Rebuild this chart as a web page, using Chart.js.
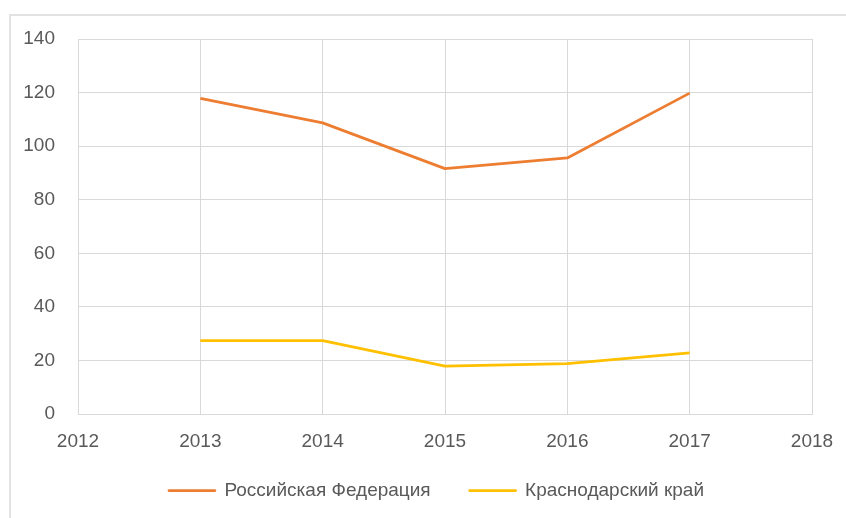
<!DOCTYPE html>
<html>
<head>
<meta charset="utf-8">
<script src="https://cdn.jsdelivr.net/npm/chart.js@4/dist/chart.umd.min.js"></script>
<style>
  html, body { margin: 0; padding: 0; background: #ffffff; }
  #wrap { position: relative; width: 846px; height: 518px; overflow: hidden; }
  #frame { position: absolute; left: 9px; top: 14px; width: 900px; height: 600px;
           border-left: 2px solid #e2e2e2; border-top: 2px solid #e2e2e2; box-sizing: border-box; }
  #c { position: absolute; left: 0; top: 0; }
</style>
</head>
<body>
<div id="wrap">
  <div id="frame"></div>
  <canvas id="c" width="846" height="518"></canvas>
</div>
<script>
const years = ['2012', '2013', '2014', '2015', '2016', '2017', '2018'];
const russia = [null, 117.8, 108.7, 91.6, 95.6, 119.8, null];
const krasnodar = [null, 27.4, 27.4, 17.9, 18.8, 22.8, null];
const seriesNames = ['Российская Федерация', 'Краснодарский край'];
const yTicks = { min: 0, max: 140, step: 20 };

const textColor = '#595959';
const gridColor = '#d9d9d9';
const font = { family: 'Liberation Sans', size: 19 };

// let axis labels draw outside their (fixed-size) axis boxes
const noLabelClip = {
  id: 'noLabelClip',
  beforeDraw(chart) {
    Object.values(chart.scales).forEach(s => { s._computeLabelArea = () => undefined; });
  }
};

new Chart(document.getElementById('c'), {
  type: 'line',
  data: {
    labels: years,
    datasets: [
      { label: seriesNames[0], data: russia, borderColor: '#ED7D31', backgroundColor: '#ED7D31',
        borderWidth: 2.75, pointRadius: 0, tension: 0, borderCapStyle: 'butt', borderJoinStyle: 'round' },
      { label: seriesNames[1], data: krasnodar, borderColor: '#FFC000', backgroundColor: '#FFC000',
        borderWidth: 2.75, pointRadius: 0, tension: 0, borderCapStyle: 'butt', borderJoinStyle: 'round' }
    ]
  },
  plugins: [noLabelClip],
  options: {
    responsive: false,
    animation: false,
    events: [],
    layout: { padding: { left: 61, right: 34, top: 39, bottom: 8 } },
    plugins: {
      tooltip: { enabled: false },
      legend: {
        position: 'bottom',
        labels: { color: textColor, font: font, boxWidth: 46, boxHeight: 0, padding: 39 }
      }
    },
    scales: {
      x: {
        offset: false,
        grid: { color: gridColor, drawTicks: false, lineWidth: 1 },
        border: { color: gridColor, width: 1 },
        ticks: { color: textColor, font: font, padding: 16, maxRotation: 0, autoSkip: false },
        afterFit: (s) => { s.height = 28; s.paddingLeft = 0; s.paddingRight = 0; }
      },
      y: {
        min: yTicks.min, max: yTicks.max,
        grid: { color: gridColor, drawTicks: false, lineWidth: 1 },
        border: { color: gridColor, width: 1 },
        ticks: { color: textColor, font: font, padding: 23, stepSize: yTicks.step },
        afterFit: (s) => { s.width = 17; }
      }
    }
  }
});
</script>
</body>
</html>
